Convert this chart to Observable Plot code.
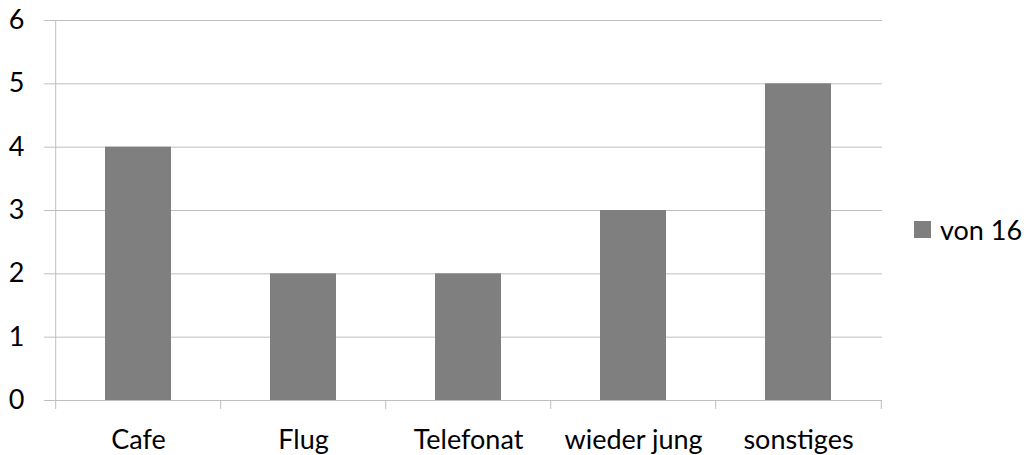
<!DOCTYPE html>
<html>
<head>
<meta charset="utf-8">
<script src="https://cdn.jsdelivr.net/npm/d3@7"></script>
<script src="https://cdn.jsdelivr.net/npm/@observablehq/plot@0.6"></script>
<style>
  html, body { margin: 0; padding: 0; background: #fff; }
  #wrap { position: relative; width: 1028px; height: 455px; font-family: Lato, "Open Sans", sans-serif; }
  #legend { position: absolute; left: 914px; top: 213px; display: flex; align-items: center; font-size: 27px; color: #000; }
  #legend .sw { width: 17px; height: 17px; background: #7f7f7f; margin-right: 9px; }
</style>
</head>
<body>
<div id="wrap"><div id="legend"><span class="sw"></span><span id="legtext"></span></div></div>
<script>
const categories = ["Cafe", "Flug", "Telefonat", "wieder jung", "sonstiges"];
const values = [4, 2, 2, 3, 5];
const seriesName = "von 16";
const yTicks = [0, 1, 2, 3, 4, 5, 6];

const data = categories.map((c, i) => ({category: c, value: values[i]}));

const W = 1028, H = 455;
const mL = 54, mR = 146, mT = 20, mB = 55;
const step = (W - mL - mR) / categories.length;

const chart = Plot.plot({
  width: W,
  height: H,
  marginLeft: mL,
  marginRight: mR,
  marginTop: mT,
  marginBottom: mB,
  style: {fontFamily: "Lato, 'Open Sans', sans-serif", fontSize: "27px", color: "#000", background: "#fff", overflow: "visible"},
  x: {domain: categories, paddingInner: 0.6, paddingOuter: 0.3, label: null},
  y: {domain: [0, 6], label: null},
  marks: [
    Plot.ruleY(yTicks, {stroke: "#bfbfbf", strokeWidth: 1}),
    Plot.axisY(yTicks, {tickSize: 10, tickPadding: 20, tickFormat: "d", stroke: "#bfbfbf", fill: "#000", label: null, fontSize: 27}),
    Plot.ruleX(categories.slice(1), {x: d => d, dx: -step / 2, y1: 0, y2: 0, insetBottom: -9, stroke: "#bfbfbf"}),
    Plot.ruleX(categories.slice(0, 1), {x: d => d, dx: -step / 2, y1: 6, y2: 0, insetBottom: -9, stroke: "#bfbfbf"}),
    Plot.ruleX(categories.slice(-1), {x: d => d, dx: step / 2, y1: 0, y2: 0, insetBottom: -9, stroke: "#bfbfbf"}),
    Plot.barY(data, {x: "category", y: "value", fill: "#7f7f7f"}),
    Plot.axisX({tickSize: 0, tickPadding: 29, fill: "#000", label: null, fontSize: 27})
  ]
});

document.getElementById("wrap").prepend(chart);
document.getElementById("legtext").textContent = seriesName;
</script>
</body>
</html>
